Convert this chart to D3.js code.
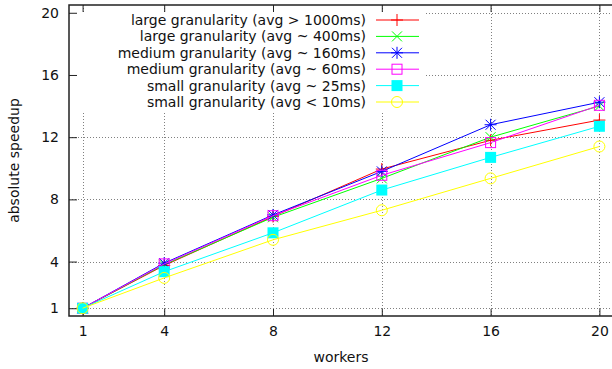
<!DOCTYPE html>
<html lang="en">
<head>
<meta charset="utf-8">
<style>
  body { margin: 0; background: #fff; }
  svg { font-family: "DejaVu Sans", sans-serif; }
</style>
<script src="https://cdn.jsdelivr.net/npm/d3@7"></script>
</head>
<body>
<svg width="612" height="369"></svg>
<script>

// data
var workers = [1, 4, 8, 12, 16, 20];
var yTicks = [1, 4, 8, 12, 16, 20];
var seriesNames = [
  "large granularity (avg > 1000ms)",
  "large granularity (avg ~ 400ms)",
  "medium granularity (avg ~ 160ms)",
  "medium granularity (avg ~ 60ms)",
  "small granularity (avg ~ 25ms)",
  "small granularity (avg < 10ms)"
];
var large1000 = [1, 3.75, 6.9, 9.95, 11.8, 13.1];
var large400  = [1, 3.8, 6.85, 9.35, 12.0, 14.0];
var medium160 = [1, 3.9, 7.0, 9.8, 12.8, 14.25];
var medium60  = [1, 3.85, 6.95, 9.55, 11.65, 14.05];
var small25   = [1, 3.35, 5.85, 8.6, 10.7, 12.7];
var small10   = [1, 2.95, 5.4, 7.3, 9.35, 11.4];

var colors = ["#ff0000", "#00ff00", "#0000ff", "#ff00ff", "#00ffff", "#ffff00"];
var markers = ["plus", "cross", "star", "box", "boxfill", "circle"];
var values = [large1000, large400, medium160, medium60, small25, small10];

var svg = d3.select("svg");
var pl = 69, pr = 613, pt = 5, pb = 316;

var x = d3.scaleLinear().domain([0.5, 20.5]).range([pl, pr]);
var y = d3.scaleLinear().domain([0.5, 20.5]).range([pb, pt]);

// grid
var grid = svg.append("g")
    .attr("stroke", "#808080")
    .attr("stroke-width", 1)
    .attr("stroke-dasharray", "1,2");
grid.selectAll(".vg").data(workers).enter().append("line")
    .attr("x1", function(d) { return Math.round(x(d)) + 0.5; })
    .attr("x2", function(d) { return Math.round(x(d)) + 0.5; })
    .attr("y1", pt).attr("y2", pb);
grid.selectAll(".hg").data(yTicks).enter().append("line")
    .attr("y1", function(d) { return Math.round(y(d)) + 0.5; })
    .attr("y2", function(d) { return Math.round(y(d)) + 0.5; })
    .attr("x1", pl).attr("x2", pr);

// key box hides the grid behind it
svg.append("rect")
    .attr("x", pl + 1).attr("y", 13)
    .attr("width", 426 - pl - 1).attr("height", 100)
    .attr("fill", "#fff");

// axes
var xAxis = d3.axisBottom(x).tickValues(workers).tickSize(-7).tickPadding(10);
var yAxis = d3.axisLeft(y).tickValues(yTicks).tickSize(-8).tickPadding(10);
var xTop = d3.axisTop(x).tickValues(workers).tickSize(-7).tickFormat("");

var gx = svg.append("g").attr("transform", "translate(0," + pb + ")").call(xAxis);
var gy = svg.append("g").attr("transform", "translate(" + pl + ",0)").call(yAxis);
var gt = svg.append("g").attr("transform", "translate(0," + pt + ")").call(xTop);
[gx, gy, gt].forEach(function(g) {
  g.select(".domain").remove();
  g.selectAll("line").attr("stroke", "#222");
  g.selectAll("text").attr("font-size", 14).attr("fill", "#111")
    .attr("font-family", "DejaVu Sans");
});

// frame
svg.append("rect")
    .attr("x", pl).attr("y", pt)
    .attr("width", pr - pl).attr("height", pb - pt)
    .attr("fill", "none").attr("stroke", "#222").attr("stroke-width", 1.5);

// axis titles
svg.append("text")
    .attr("x", (pl + pr) / 2).attr("y", 362)
    .attr("text-anchor", "middle").attr("font-size", 14).attr("fill", "#111")
    .text("workers");
svg.append("text")
    .attr("transform", "translate(19," + ((pt + pb) / 2) + ") rotate(-90)")
    .attr("text-anchor", "middle").attr("font-size", 14).attr("fill", "#111")
    .text("absolute speedup");

function drawMarker(g, kind, color) {
  if (kind == "plus") {
    g.append("path").attr("d", "M-6,0H6M0,-6V6")
      .attr("stroke", color).attr("fill", "none");
  } else if (kind == "cross") {
    g.append("path").attr("d", "M-5,-5L5,5M-5,5L5,-5")
      .attr("stroke", color).attr("fill", "none");
  } else if (kind == "star") {
    g.append("path").attr("d", "M-6,0H6M0,-6V6M-5,-5L5,5M-5,5L5,-5")
      .attr("stroke", color).attr("fill", "none");
  } else if (kind == "box") {
    g.append("rect").attr("x", -5).attr("y", -5).attr("width", 10).attr("height", 10)
      .attr("stroke", color).attr("fill", "none");
  } else if (kind == "boxfill") {
    g.append("rect").attr("x", -5.5).attr("y", -5.5).attr("width", 11).attr("height", 11)
      .attr("fill", color);
  } else {
    g.append("circle").attr("r", 5.5)
      .attr("stroke", color).attr("fill", "none");
  }
}

var line = d3.line()
    .x(function(d) { return x(d[0]); })
    .y(function(d) { return y(d[1]); });

values.forEach(function(vals, i) {
  var pts = workers.map(function(w, j) { return [w, vals[j]]; });
  var g = svg.append("g");
  g.append("path").datum(pts)
      .attr("d", line)
      .attr("fill", "none")
      .attr("stroke", colors[i])
      .attr("stroke-width", 1);
  pts.forEach(function(p) {
    var m = g.append("g").attr("transform", "translate(" + x(p[0]) + "," + y(p[1]) + ")");
    drawMarker(m, markers[i], colors[i]);
  });
});

// key
var key = svg.append("g");
seriesNames.forEach(function(name, i) {
  var cy = 20 + i * 16.4;
  key.append("text")
      .attr("x", 366).attr("y", cy)
      .attr("dy", "0.35em")
      .attr("text-anchor", "end")
      .attr("font-size", 14).attr("fill", "#111")
      .text(name);
  key.append("line")
      .attr("x1", 376).attr("x2", 419)
      .attr("y1", cy).attr("y2", cy)
      .attr("stroke", colors[i]);
  var m = key.append("g").attr("transform", "translate(397," + cy + ")");
  drawMarker(m, markers[i], colors[i]);
});

</script>
</body>
</html>
